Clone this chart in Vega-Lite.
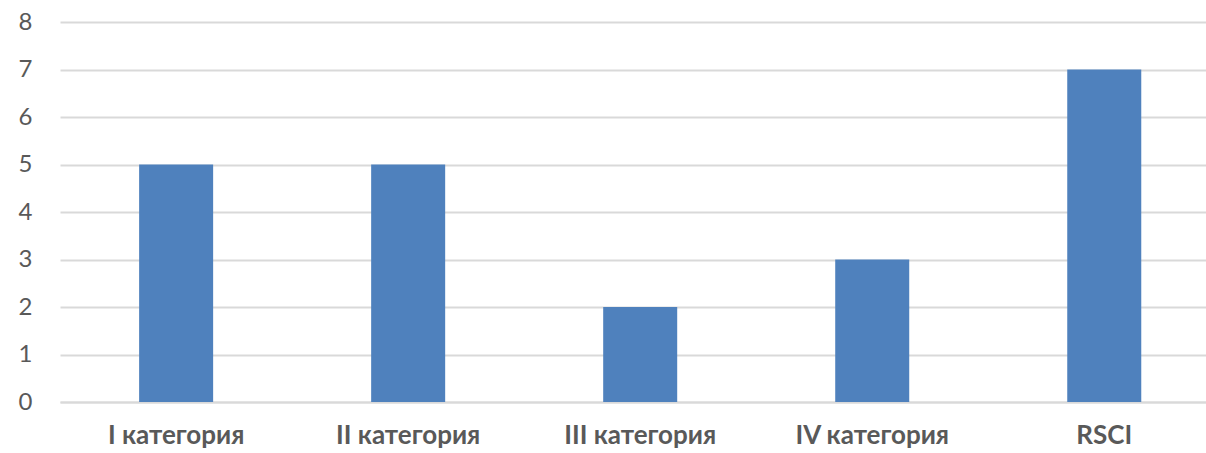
{
  "$schema": "https://vega.github.io/schema/vega-lite/v6.json",
  "autosize": {"type": "none"},
  "padding": {"left": 60, "top": 22, "right": 0, "bottom": 51},
  "width": 1146,
  "height": 380,
  "background": "white",
  "data": {"values": [
    {"category": "I категория", "value": 5},
    {"category": "II категория", "value": 5},
    {"category": "III категория", "value": 2},
    {"category": "IV категория", "value": 3},
    {"category": "RSCI", "value": 7}
  ]},
  "mark": {"type": "bar", "color": "#4f81bd"},
  "encoding": {
    "x": {
      "field": "category", "type": "nominal", "sort": null,
      "scale": {"paddingInner": 0.681, "paddingOuter": 0.31, "align": 0.55},
      "axis": {
        "title": null, "labelAngle": 0, "ticks": false,
        "domainColor": "#d9d9d9", "domainWidth": 2,
        "labelFont": "Lato", "labelFontSize": 26, "labelFontWeight": "bold",
        "labelColor": "#595959", "labelPadding": 20, "labelOverlap": false
      }
    },
    "y": {
      "field": "value", "type": "quantitative",
      "scale": {"domain": [0, 8]},
      "axis": {
        "title": null, "values": [0,1,2,3,4,5,6,7,8],
        "ticks": false, "domain": false, "labelOverlap": false,
        "gridColor": "#d9d9d9", "gridWidth": 2,
        "labelFont": "Lato", "labelFontSize": 24, "labelColor": "#595959",
        "labelPadding": 28
      }
    }
  },
  "config": {"view": {"stroke": null}}
}
